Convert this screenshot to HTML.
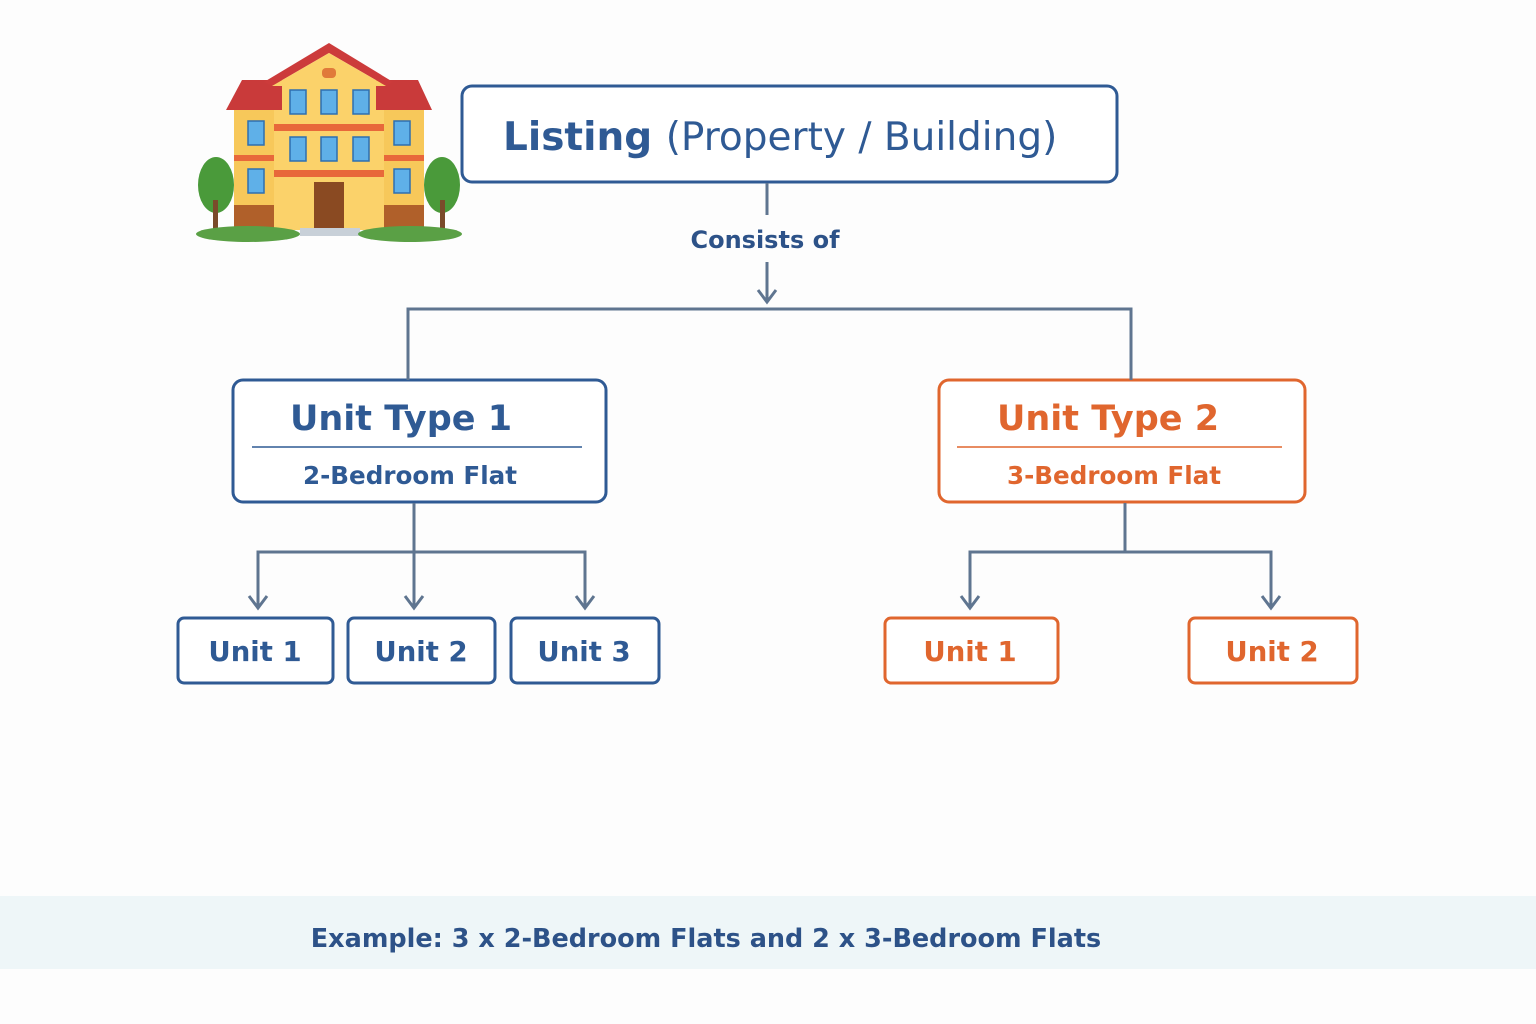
<!DOCTYPE html>
<html><head><meta charset="utf-8"><style>
html,body{margin:0;padding:0;background:#fdfdfd}
svg{display:block}
text{font-family:"DejaVu Sans","Liberation Sans",sans-serif;font-weight:bold}
</style></head><body>
<svg width="1536" height="1024" viewBox="0 0 1536 1024" xmlns="http://www.w3.org/2000/svg">
<rect width="1536" height="1024" fill="#fdfdfd"/>
<rect x="0" y="896" width="1536" height="73" fill="#eef6f8"/>
<text x="706" y="947" font-size="25.5" fill="#2d5288" text-anchor="middle">Example: 3 x 2-Bedroom Flats and 2 x 3-Bedroom Flats</text>

<!-- building -->
<g>
<rect x="234" y="100" width="190" height="130" fill="#f7c85a"/>
<rect x="234" y="205" width="190" height="25" fill="#b0602a"/>
<rect x="274" y="80" width="110" height="150" fill="#fbd26a"/>
<polygon points="226,110 242,80 282,80 282,110" fill="#c93a3a"/>
<polygon points="376,80 418,80 432,110 376,110" fill="#c93a3a"/>
<polygon points="264,82 329,43 393,82 386,86 329,53 272,86" fill="#cc3b3b"/>
<polygon points="272,86 329,53 386,86" fill="#fbd26a"/>
<rect x="322" y="68" width="14" height="10" rx="4" fill="#e07a3a"/>
<rect x="274" y="124" width="110" height="7" fill="#e8683a"/>
<rect x="274" y="170" width="110" height="7" fill="#e8683a"/>
<rect x="234" y="155" width="40" height="6" fill="#e8683a"/>
<rect x="384" y="155" width="40" height="6" fill="#e8683a"/>
<g fill="#5fb0e8" stroke="#2e6fb0" stroke-width="1.5">
<rect x="290" y="90" width="16" height="24"/><rect x="321" y="90" width="16" height="24"/><rect x="353" y="90" width="16" height="24"/>
<rect x="290" y="137" width="16" height="24"/><rect x="321" y="137" width="16" height="24"/><rect x="353" y="137" width="16" height="24"/>
<rect x="248" y="121" width="16" height="24"/><rect x="394" y="121" width="16" height="24"/>
<rect x="248" y="169" width="16" height="24"/><rect x="394" y="169" width="16" height="24"/>
</g>
<rect x="314" y="182" width="30" height="46" fill="#8a4a22"/>
<rect x="300" y="228" width="60" height="8" fill="#c8d0d8"/>
<ellipse cx="216" cy="185" rx="18" ry="28" fill="#4a9a3a"/>
<rect x="213" y="200" width="5" height="32" fill="#7a4a2a"/>
<ellipse cx="442" cy="185" rx="18" ry="28" fill="#4a9a3a"/>
<rect x="440" y="200" width="5" height="32" fill="#7a4a2a"/>
<ellipse cx="248" cy="234" rx="52" ry="8" fill="#5aa045"/>
<ellipse cx="410" cy="234" rx="52" ry="8" fill="#5aa045"/>
</g>

<g fill="none" stroke-linejoin="round">
<rect x="462" y="86" width="655" height="96" rx="10" fill="#fff" stroke="#2f5a94" stroke-width="3"/>
<rect x="233" y="380" width="373" height="122" rx="10" fill="#fff" stroke="#2f5a94" stroke-width="3"/>
<rect x="939" y="380" width="366" height="122" rx="10" fill="#fff" stroke="#e0662e" stroke-width="3"/>
<rect x="178" y="618" width="155" height="65" rx="6" fill="#fff" stroke="#2f5a94" stroke-width="3"/>
<rect x="348" y="618" width="147" height="65" rx="6" fill="#fff" stroke="#2f5a94" stroke-width="3"/>
<rect x="511" y="618" width="148" height="65" rx="6" fill="#fff" stroke="#2f5a94" stroke-width="3"/>
<rect x="885" y="618" width="173" height="65" rx="6" fill="#fff" stroke="#e0662e" stroke-width="3"/>
<rect x="1189" y="618" width="168" height="65" rx="6" fill="#fff" stroke="#e0662e" stroke-width="3"/>
</g>
<line x1="252" y1="447" x2="582" y2="447" stroke="#2f5a94" stroke-width="1.5"/>
<line x1="957" y1="447" x2="1282" y2="447" stroke="#e0662e" stroke-width="1.5"/>

<g fill="none" stroke="#5f7590" stroke-width="3">
<path d="M767 183 V215 M767 262 V302"/>
<path d="M408 380 V309 H1131 V380"/>
<path d="M414 503 V607 M258 607 V552 H585 V607"/>
<path d="M1125 503 V552 M970 607 V552 H1271 V607"/>
<path d="M758 290 L767 302 L776 290 M249 596 L258 608 L267 596 M405 596 L414 608 L423 596 M576 596 L585 608 L594 596 M961 596 L970 608 L979 596 M1262 596 L1271 608 L1280 596"/>
</g>

<text x="765" y="248" font-size="24" fill="#2d5288" text-anchor="middle">Consists of</text>
<text x="503" y="150" font-size="39" fill="#2f5a94">Listing <tspan font-weight="normal">(Property / Building)</tspan></text>
<text x="401" y="430" font-size="35" fill="#2f5a94" text-anchor="middle">Unit Type 1</text>
<text x="410" y="484" font-size="24.6" fill="#2f5a94" text-anchor="middle">2-Bedroom Flat</text>
<text x="1108" y="430" font-size="35" fill="#e0662e" text-anchor="middle">Unit Type 2</text>
<text x="1114" y="484" font-size="24.6" fill="#e0662e" text-anchor="middle">3-Bedroom Flat</text>
<g font-size="27.5" text-anchor="middle" fill="#2f5a94">
<text x="255" y="661">Unit 1</text><text x="421" y="661">Unit 2</text><text x="584" y="661">Unit 3</text>
</g>
<g font-size="27.5" text-anchor="middle" fill="#e0662e">
<text x="970" y="661">Unit 1</text><text x="1272" y="661">Unit 2</text>
</g>
</svg>
</body></html>
